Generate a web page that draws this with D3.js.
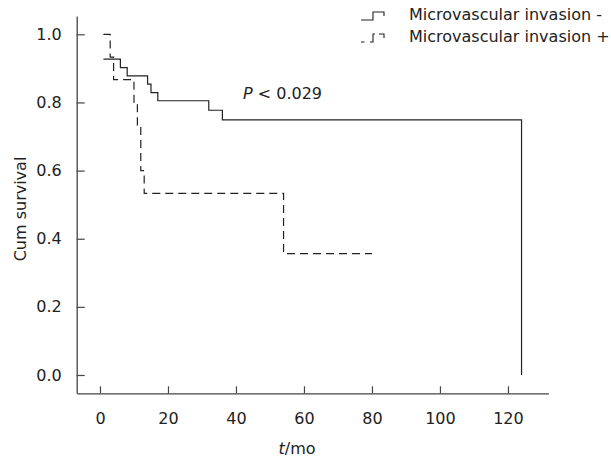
<!DOCTYPE html>
<html>
<head>
<meta charset="utf-8">
<script src="https://cdn.jsdelivr.net/npm/d3@7"></script>
<style>
  body { margin: 0; background: #fff; }
  text { font-family: "DejaVu Sans", Verdana, sans-serif; fill: #222; }
</style>
</head>
<body>
<div id="chart"></div>
<script>
// Kaplan-Meier curves (months, cum survival)
const negTimes = [1, 6, 8, 14, 15, 17, 32, 36, 124];
const negSurv = [0.927, 0.902, 0.878, 0.854, 0.829, 0.805, 0.777, 0.749, 0];
const posTimes = [1, 3, 4, 10, 11, 12, 13, 54, 80];
const posSurv = [1.0, 0.933, 0.867, 0.8, 0.733, 0.6, 0.533, 0.356, 0.356];

const xTicks = [0, 20, 40, 60, 80, 100, 120];
const yTicks = [0, 0.2, 0.4, 0.6, 0.8, 1.0];
const legendLabels = ["Microvascular invasion -", "Microvascular invasion +"];

const W = 611, H = 457;

const svg = d3.select("#chart").append("svg")
  .attr("width", W).attr("height", H);

// scales (domain padded so the axis lines run past the ticks)
const x = d3.scaleLinear().domain([-6.85, 131.9]).range([76.7, 548.4]);
const y = d3.scaleLinear().domain([-0.0537, 1.0537]).range([393.3, 16]);

const axisColor = "#444";

// x axis, ticks point up
const xAxis = svg.append("g")
  .attr("transform", `translate(0,${y.range()[0]})`)
  .call(d3.axisBottom(x).tickValues(xTicks).tickSizeInner(-7).tickSizeOuter(0).tickPadding(19)
    .tickFormat(d3.format("d")));
xAxis.select(".domain").attr("stroke", axisColor).attr("stroke-width", 1.3);
xAxis.selectAll(".tick line").attr("stroke", axisColor).attr("stroke-width", 1.2);
xAxis.selectAll("text").attr("font-size", 16).attr("fill", "#222")
  .attr("font-family", "DejaVu Sans, Verdana, sans-serif");

// y axis, ticks point right
const yAxis = svg.append("g")
  .attr("transform", `translate(${x.range()[0]},0)`)
  .call(d3.axisLeft(y).tickValues(yTicks).tickSizeInner(-8).tickSizeOuter(0).tickPadding(15)
    .tickFormat(d3.format(".1f")));
yAxis.select(".domain").attr("stroke", axisColor).attr("stroke-width", 1.3);
yAxis.selectAll(".tick line").attr("stroke", axisColor).attr("stroke-width", 1.2);
yAxis.selectAll("text").attr("font-size", 16).attr("fill", "#222")
  .attr("font-family", "DejaVu Sans, Verdana, sans-serif");

// survival curves
const line = d3.line()
  .x(d => x(d[0]))
  .y(d => y(d[1]))
  .curve(d3.curveStepAfter);

svg.append("path")
  .datum(d3.zip(negTimes, negSurv))
  .attr("d", line)
  .attr("fill", "none")
  .attr("stroke", "#222")
  .attr("stroke-width", 1.2);

svg.append("path")
  .datum(d3.zip(posTimes, posSurv))
  .attr("d", line)
  .attr("fill", "none")
  .attr("stroke", "#222")
  .attr("stroke-width", 1.2)
  .attr("stroke-dasharray", "8,5");

// axis titles
svg.append("text")
  .attr("transform", "translate(26,209) rotate(-90)")
  .attr("text-anchor", "middle")
  .attr("font-size", 16)
  .text("Cum survival");

const xt = svg.append("text")
  .attr("x", 297).attr("y", 454)
  .attr("text-anchor", "middle")
  .attr("font-size", 16);
xt.append("tspan").attr("font-style", "italic").text("t");
xt.append("tspan").text("/mo");

// p value
const pt = svg.append("text")
  .attr("x", 243).attr("y", 99)
  .attr("font-size", 16);
pt.append("tspan").attr("font-style", "italic").text("P");
pt.append("tspan").text(" < 0.029");

// legend
const legend = svg.append("g");
legendLabels.forEach((lab, i) => {
  const b = 20 + i * 22;
  legend.append("path")
    .attr("d", `M361,${b} H373 V${b - 8} H384 V${b - 4}`)
    .attr("fill", "none")
    .attr("stroke", "#222")
    .attr("stroke-width", 1.1)
    .attr("stroke-dasharray", i === 1 ? "3.5,5.5,13,4,9" : null);
  legend.append("text")
    .attr("x", 409).attr("y", b)
    .attr("font-size", 16)
    .text(lab);
});
</script>
</body>
</html>
